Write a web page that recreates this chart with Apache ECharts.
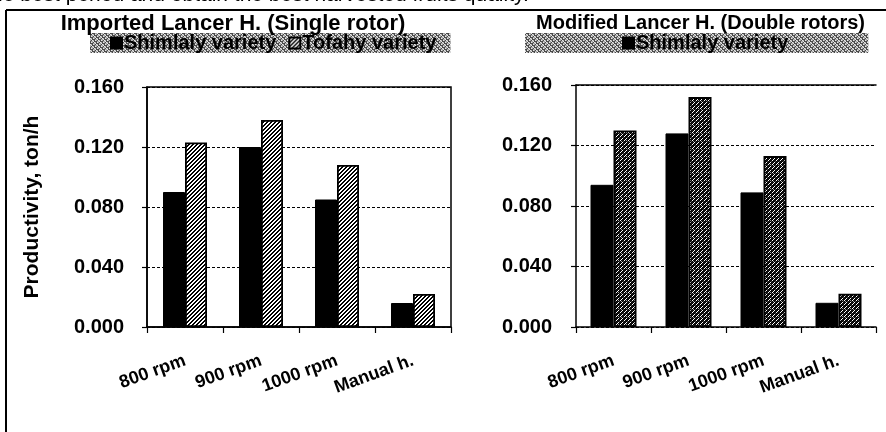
<!DOCTYPE html>
<html>
<head>
<meta charset="utf-8">
<script src="https://cdn.jsdelivr.net/npm/echarts@6/dist/echarts.min.js"></script>
<style>
html,body{margin:0;padding:0;background:#fff;}
#chart{width:886px;height:432px;}
</style>
</head>
<body>
<div id="chart"></div>
<script>
// ---- data ----
var categories = ['800 rpm', '900 rpm', '1000 rpm', 'Manual h.'];
var singleShimlaly = [0.090, 0.120, 0.085, 0.016];
var singleTofahy   = [0.123, 0.138, 0.108, 0.022];
var doubleShimlaly = [0.094, 0.128, 0.089, 0.016];
var doubleTofahy   = [0.130, 0.152, 0.113, 0.022];
var yTicks = [0.000, 0.040, 0.080, 0.120, 0.160];
var titleLeft = 'Imported Lancer H. (Single rotor)';
var titleRight = 'Modified Lancer H. (Double rotors)';
var yName = 'Productivity, ton/h';
var topText = 'ie best period and obtain the best harvested fruits quality.';

// ---- patterns ----
function makePattern(size, fn) {
  var c = document.createElement('canvas');
  c.width = size; c.height = size;
  var ctx = c.getContext('2d');
  for (var x = 0; x < size; x++) {
    for (var y = 0; y < size; y++) {
      ctx.fillStyle = fn(x, y);
      ctx.fillRect(x, y, 1, 1);
    }
  }
  return { image: c, repeat: 'repeat' };
}
var hatchLeft = makePattern(4, function (x, y) {
  return ((x + y) % 4 < 2) ? '#000' : '#fff';
});
var hatchRight = makePattern(8, function (x, y) {
  var d = (x + y) % 4;
  if (d === 0) return ((x % 4) === 3) ? '#555' : '#fff';
  if (d === 2) return ((x + 2 * y) % 5 === 0) ? '#999' : '#111';
  return '#000';
});
var legendBg = makePattern(6, function (x, y) {
  var v = (x * 7 + y * 11 + x * y * 3) % 6;
  return v < 3 ? '#4a4a4a' : (v < 5 ? '#a8a8a8' : '#e8e8e8');
});

var FONT = 'Arial, "Liberation Sans", sans-serif';
var yMin = yTicks[0], yMax = yTicks[yTicks.length - 1], yStep = yTicks[1] - yTicks[0];

function yAxisCfg(gridIndex, showName, margin) {
  return {
    type: 'value', gridIndex: gridIndex, min: yMin, max: yMax, interval: yStep,
    name: showName ? yName : '', nameLocation: 'middle', nameGap: 104,
    nameTextStyle: { fontFamily: FONT, fontWeight: 'bold', fontSize: 21, color: '#000' },
    axisLine: { show: true, lineStyle: { color: '#000', width: 1.5 } },
    axisTick: { show: true, length: 5, lineStyle: { color: '#000', width: 1.2 } },
    axisLabel: { margin: margin, fontFamily: FONT, fontWeight: 'bold', fontSize: 20, color: '#000',
      formatter: function (v) { return v.toFixed(3); } },
    splitLine: { show: true, lineStyle: { color: '#000', width: 1, type: [3, 2] } }
  };
}
function xAxisCfg(gridIndex) {
  return {
    type: 'category', gridIndex: gridIndex, data: categories,
    axisLine: { show: true, lineStyle: { color: '#000', width: 1.5 } },
    axisTick: { show: true, length: 6, lineStyle: { color: '#000', width: 1.2 } },
    axisLabel: { rotate: 20, margin: 33, interval: 0, fontFamily: FONT, fontWeight: 'bold', fontSize: 18, color: '#000' }
  };
}

var chart = echarts.init(document.getElementById('chart'), null, { renderer: 'canvas' });
chart.setOption({
  animation: false,
  backgroundColor: '#fff',
  title: [
    { text: titleLeft, left: 228, textAlign: 'center', top: 8,
      textStyle: { fontFamily: FONT, fontWeight: 'bold', fontSize: 22, color: '#000' } },
    { text: titleRight, right: 16, top: 8,
      textStyle: { fontFamily: FONT, fontWeight: 'bold', fontSize: 20, color: '#000' } }
  ],
  legend: [
    { data: ['Shimlaly variety', 'Tofahy variety'], left: 90, top: 33,
      backgroundColor: legendBg, padding: [0, 14, 0, 20], itemGap: 12,
      itemWidth: 11, itemHeight: 11, icon: 'rect',
      textStyle: { fontFamily: FONT, fontWeight: 'bold', fontSize: 20, color: '#000', lineHeight: 18, padding: [0, 0, 0, -3] } },
    { data: ['Shimlaly variety'], left: 525, top: 33,
      backgroundColor: legendBg, padding: [0, 80, 0, 97],
      itemWidth: 11, itemHeight: 11, icon: 'rect',
      textStyle: { fontFamily: FONT, fontWeight: 'bold', fontSize: 20, color: '#000', lineHeight: 18, padding: [0, 0, 0, -3] } }
  ],
  grid: [
    { left: 147, top: 87, width: 304, height: 240, show: true, borderColor: '#000', borderWidth: 1.5, backgroundColor: 'transparent' },
    { left: 576, top: 85, width: 300, height: 242 }
  ],
  xAxis: [
    xAxisCfg(0),
    xAxisCfg(1),
    { type: 'category', gridIndex: 1, position: 'top', data: categories,
      axisLine: { show: true, lineStyle: { color: '#000', width: 1.5 } },
      axisTick: { show: false }, axisLabel: { show: false }, splitLine: { show: false } }
  ],
  yAxis: [ yAxisCfg(0, true, 23), yAxisCfg(1, false, 24) ],
  series: [
    { name: 'Shimlaly variety', type: 'bar', xAxisIndex: 0, yAxisIndex: 0, data: singleShimlaly,
      barWidth: 22, barGap: '0%', itemStyle: { color: '#000', borderColor: '#000', borderWidth: 1 } },
    { name: 'Tofahy variety', type: 'bar', xAxisIndex: 0, yAxisIndex: 0, data: singleTofahy,
      barWidth: 22, barGap: '0%', itemStyle: { color: hatchLeft, borderColor: '#000', borderWidth: 1.8 } },
    { name: 'Shimlaly variety', type: 'bar', xAxisIndex: 1, yAxisIndex: 1, data: doubleShimlaly,
      barWidth: 23, barGap: '0%', itemStyle: { color: '#000', borderColor: '#000', borderWidth: 1 } },
    { name: 'Tofahy variety (double)', type: 'bar', xAxisIndex: 1, yAxisIndex: 1, data: doubleTofahy,
      barWidth: 23, barGap: '0%', itemStyle: { color: hatchRight, borderColor: '#000', borderWidth: 1.8 } }
  ],
  graphic: [
    { type: 'text', left: -2, top: -15, silent: true,
      style: { text: topText, fontFamily: FONT, fontSize: 21, fill: '#000' } },
    { type: 'line', silent: true, shape: { x1: 6, y1: 10, x2: 886, y2: 10 }, style: { stroke: '#000', lineWidth: 2 } },
    { type: 'line', silent: true, shape: { x1: 6, y1: 10, x2: 6, y2: 432 }, style: { stroke: '#000', lineWidth: 2 } }
  ]
});
</script>
</body>
</html>
